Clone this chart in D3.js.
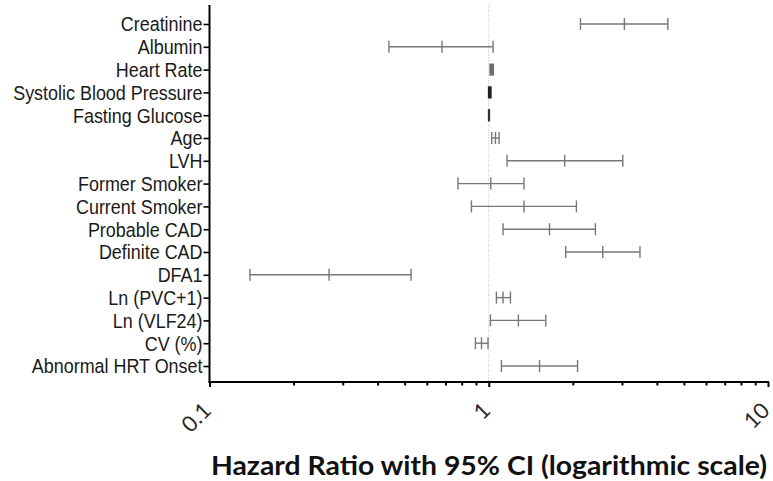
<!DOCTYPE html>
<html>
<head>
<meta charset="utf-8">
<script src="https://cdn.jsdelivr.net/npm/d3@7/dist/d3.min.js"></script>
<style>
  html, body { margin: 0; padding: 0; background: #fff; }
  svg { display: block; }
</style>
</head>
<body>
<svg id="chart" width="773" height="481"></svg>
<script>
const categories = ["Creatinine", "Albumin", "Heart Rate", "Systolic Blood Pressure", "Fasting Glucose",
  "Age", "LVH", "Former Smoker", "Current Smoker", "Probable CAD", "Definite CAD", "DFA1",
  "Ln (PVC+1)", "Ln (VLF24)", "CV (%)", "Abnormal HRT Onset"];
const hazardRatio = [3.06, 0.68, 1.025, 1.008, 1.002, 1.057, 1.87, 1.017, 1.337, 1.65, 2.56, 0.268, 1.125, 1.277, 0.942, 1.52];
const ciLower     = [2.13, 0.439, 1.013, 1.0, 1.0, 1.025, 1.163, 0.776, 0.867, 1.125, 1.886, 0.1396, 1.065, 1.014, 0.896, 1.11];
const ciUpper     = [4.38, 1.036, 1.037, 1.017, 1.004, 1.089, 3.02, 1.337, 2.06, 2.41, 3.48, 0.527, 1.196, 1.6, 0.994, 2.08];
const xTickValues = [0.1, 1, 10];
const xTickLabels = ["0.1", "1", "10"];
const xTitle = "Hazard Ratio with 95% CI (logarithmic scale)";

const svg = d3.select("#chart");
const axisLeftX = 209.5, axisRightX = 768, axisTop = 5, axisBottom = 382;

const x = d3.scaleLog().domain([0.1, 10]).range([axisLeftX, axisRightX]);
const y = d3.scalePoint().domain(categories).range([24, 366]);

// reference line at HR = 1
svg.append("line")
  .attr("x1", x(1)).attr("x2", x(1))
  .attr("y1", axisTop).attr("y2", axisBottom)
  .attr("stroke", "#bbbbbb").attr("stroke-width", 1)
  .attr("stroke-dasharray", "1,1.5");

// error bars
const data = categories.map((c, i) => ({ c, hr: hazardRatio[i], lo: ciLower[i], hi: ciUpper[i] }));
const capH = 6;
const g = svg.append("g");
data.forEach(d => {
  const px = x(d.hi) - x(d.lo);
  const narrow = px < 6;
  const col = narrow ? (px < 1 ? "#333" : (px < 2.5 ? "#222" : "#6a6a6a")) : "#777";
  const sw = narrow ? 1.8 : 1.4;
  const gy = y(d.c);
  g.append("line").attr("x1", x(d.lo)).attr("x2", x(d.hi)).attr("y1", gy).attr("y2", gy)
    .attr("stroke", col).attr("stroke-width", sw);
  [d.lo, d.hr, d.hi].forEach(v => {
    g.append("line").attr("x1", x(v)).attr("x2", x(v))
      .attr("y1", gy - capH).attr("y2", gy + capH)
      .attr("stroke", col).attr("stroke-width", sw);
  });
});

// Y axis
const sx = 0.875;
const yAxis = svg.append("g").attr("transform", `translate(${axisLeftX},0)`)
  .call(d3.axisLeft(y).tickSize(6).tickPadding(1));
yAxis.select(".domain").remove();
yAxis.selectAll(".tick line").attr("stroke", "#000").attr("stroke-width", 1.6);
yAxis.selectAll(".tick text")
  .attr("x", -7 / sx)
  .attr("dy", "0.34em")
  .attr("transform", `scale(${sx},1)`)
  .attr("font-family", "'Liberation Sans', Arial, sans-serif")
  .attr("font-size", "20.5px").attr("fill", "#1a1a1a");
svg.append("line").attr("x1", axisLeftX).attr("x2", axisLeftX)
  .attr("y1", axisTop).attr("y2", axisBottom + 1)
  .attr("stroke", "#000").attr("stroke-width", 2);

// X axis
const minorTicks = [];
for (let dec = 0.1; dec < 10; dec *= 10) {
  for (let k = 2; k <= 9; k++) minorTicks.push(+(dec * k).toFixed(3));
}
const xAxisG = svg.append("g").attr("transform", `translate(0,${axisBottom})`);
xAxisG.call(d3.axisBottom(x).tickValues(minorTicks).tickSize(3.5).tickFormat(""));
xAxisG.call(g2 => g2.select(".domain").remove());
xAxisG.selectAll(".tick line").attr("stroke", "#000").attr("stroke-width", 2);
const xMajor = svg.append("g").attr("transform", `translate(0,${axisBottom})`)
  .call(d3.axisBottom(x).tickValues(xTickValues).tickSize(5).tickFormat(""));
xMajor.select(".domain").remove();
xMajor.selectAll(".tick line").attr("stroke", "#000").attr("stroke-width", 2);
svg.append("line").attr("x1", axisLeftX - 1).attr("x2", axisRightX + 1)
  .attr("y1", axisBottom).attr("y2", axisBottom)
  .attr("stroke", "#000").attr("stroke-width", 2);

// rotated tick labels
xTickValues.forEach((v, i) => {
  svg.append("text")
    .attr("transform", `translate(${x(v) + 3},${axisBottom + 30}) rotate(-45)`)
    .attr("text-anchor", "end")
    .attr("font-family", "Lato, 'Open Sans', sans-serif")
    .attr("font-size", "22px").attr("fill", "#2a2a2a")
    .text(xTickLabels[i]);
});

// X title
svg.append("text")
  .attr("x", 211).attr("y", 475)
  .attr("textLength", 556).attr("lengthAdjust", "spacingAndGlyphs")
  .attr("font-family", "Lato, 'Open Sans', sans-serif")
  .attr("font-weight", "bold").attr("font-size", "26px").attr("fill", "#111")
  .text(xTitle);
</script>
</body>
</html>
